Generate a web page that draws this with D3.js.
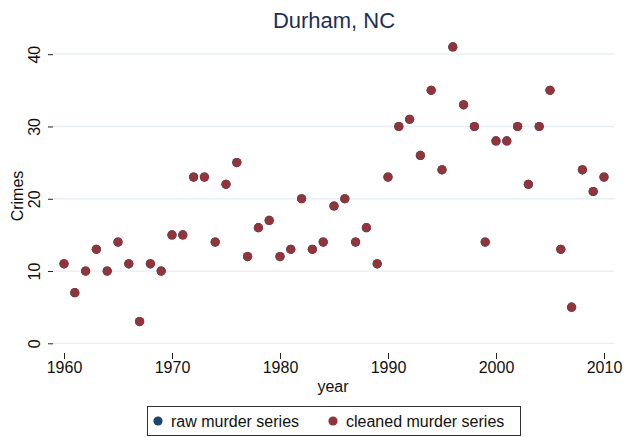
<!DOCTYPE html>
<html>
<head>
<meta charset="utf-8">
<script src="https://cdn.jsdelivr.net/npm/d3@7"></script>
<style>
  html, body { margin: 0; padding: 0; background: #fff; }
  svg { display: block; font-family: "Liberation Sans", Arial, Helvetica, sans-serif; }
</style>
</head>
<body>
<svg id="chart" width="625" height="437"></svg>
<script>
const years = d3.range(1960, 2011);
const cleanedMurders = [11, 7, 10, 13, 10, 14, 11, 3, 11, 10,
  15, 15, 23, 23, 14, 22, 25, 12, 16, 17,
  12, 13, 20, 13, 14, 19, 20, 14, 16, 11,
  23, 30, 31, 26, 35, 24, 41, 33, 30, 14,
  28, 28, 30, 22, 30, 35, 13, 5, 24, 21, 23];
const rawMurders = cleanedMurders.slice();
const xTicks = [1960, 1970, 1980, 1990, 2000, 2010];
const yTicks = [0, 10, 20, 30, 40];
const seriesNames = ["raw murder series", "cleaned murder series"];
const seriesColors = ["#1a476f", "#90353b"];

const svg = d3.select("#chart");
const plotLeft = 53, plotRight = 614;
const fs = 16;

const x = d3.scaleLinear().domain([1960, 2010]).range([64, 604]);
const y = d3.scaleLinear().domain([0, 40]).range([343.3, 54.2]);

// grid lines
svg.append("g").selectAll("line").data(yTicks).join("line")
  .attr("x1", plotLeft).attr("x2", plotRight)
  .attr("y1", d => y(d)).attr("y2", d => y(d))
  .attr("stroke", "#e6eef1").attr("stroke-width", 1.3);

// y axis
const yAxis = svg.append("g").attr("transform", `translate(${plotLeft},0)`)
  .call(d3.axisLeft(y).tickValues(yTicks).tickSize(5).tickPadding(4).tickFormat(d3.format("d")));
yAxis.select(".domain").remove();
yAxis.selectAll(".tick line").attr("stroke", "#222").attr("stroke-width", 1);
yAxis.selectAll(".tick text")
  .attr("transform", "rotate(-90)")
  .attr("x", 0).attr("y", -13.5)
  .attr("dy", "0")
  .attr("text-anchor", "middle")
  .attr("font-size", fs).attr("fill", "#111")
  .attr("font-family", "Liberation Sans, Arial, sans-serif");

// x axis
const xAxis = svg.append("g").attr("transform", `translate(0,353)`)
  .call(d3.axisBottom(x).tickValues(xTicks).tickSize(6).tickPadding(3).tickFormat(d3.format("d")));
xAxis.select(".domain").remove();
xAxis.selectAll(".tick line").attr("stroke", "#222").attr("stroke-width", 1);
xAxis.selectAll(".tick text")
  .attr("font-size", fs).attr("fill", "#111")
  .attr("font-family", "Liberation Sans, Arial, sans-serif");

// axis titles
svg.append("text").attr("x", 333).attr("y", 392)
  .attr("text-anchor", "middle").attr("font-size", fs).attr("fill", "#111").text("year");
svg.append("text").attr("transform", "translate(23,196) rotate(-90)")
  .attr("text-anchor", "middle").attr("font-size", fs).attr("fill", "#111").text("Crimes");

// title
svg.append("text").attr("x", 334).attr("y", 28)
  .attr("text-anchor", "middle").attr("font-size", 22).attr("fill", "#1e2d5a").text("Durham, NC");

// points
const raw = years.map((yr, i) => ({ yr, v: rawMurders[i] }));
const cleaned = years.map((yr, i) => ({ yr, v: cleanedMurders[i] }));
svg.append("g").selectAll("circle").data(raw).join("circle")
  .attr("cx", d => x(d.yr)).attr("cy", d => y(d.v)).attr("r", 4.6)
  .attr("fill", seriesColors[0]);
svg.append("g").selectAll("circle").data(cleaned).join("circle")
  .attr("cx", d => x(d.yr)).attr("cy", d => y(d.v)).attr("r", 4.6)
  .attr("fill", seriesColors[1]);

// legend
const lg = svg.append("g");
lg.append("rect").attr("x", 147.5).attr("y", 406.5).attr("width", 373).attr("height", 29)
  .attr("fill", "#fff").attr("stroke", "#333").attr("stroke-width", 1);
const legendItems = [{ cx: 158, tx: 171 }, { cx: 333, tx: 346 }];
legendItems.forEach((it, i) => {
  lg.append("circle").attr("cx", it.cx).attr("cy", 421).attr("r", 4.6).attr("fill", seriesColors[i]);
  lg.append("text").attr("x", it.tx).attr("y", 426.5).attr("font-size", fs).attr("fill", "#111").text(seriesNames[i]);
});
</script>
</body>
</html>
